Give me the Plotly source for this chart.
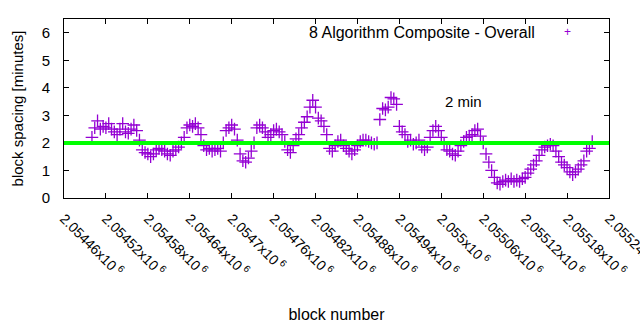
import plotly.graph_objects as go

# Block numbers (every 4th block) and the measured block spacing in minutes
blocks = list(range(2054500, 2055220, 4))
spacing = [
    2.2, 2.55, 2.8, 2.5, 2.6, 2.55, 2.7, 2.5, 2.4, 2.3,
    2.5, 2.7, 2.4, 2.35, 2.5, 2.65, 2.45, 2.1, 1.75, 1.65,
    1.6, 1.5, 1.6, 1.75, 1.8, 1.75, 1.7, 1.6, 1.55, 1.7,
    1.75, 1.85, 2.0, 2.2, 2.55, 2.65, 2.6, 2.7, 2.55, 2.3,
    1.9, 1.75, 1.8, 1.7, 1.75, 1.8, 1.7, 2.0, 2.45, 2.55,
    2.65, 2.5, 2.1, 1.6, 1.35, 1.3, 1.45, 1.7, 2.0, 2.55,
    2.65, 2.55, 2.4, 2.2, 2.3, 2.45, 2.5, 2.4, 2.3, 2.05,
    1.75, 1.65, 1.9, 2.15, 2.3, 2.55, 2.75, 2.95, 3.3, 3.55,
    3.3, 2.9, 2.8, 2.6, 2.3, 1.8, 1.7, 1.9, 2.05, 2.1,
    1.9, 1.8, 1.7, 1.6, 1.75, 1.9, 2.05, 2.1, 2.1, 2.05,
    2.0, 1.95, 2.0, 2.85, 3.25, 3.2, 3.3, 3.65, 3.6, 3.4,
    2.6, 2.4, 2.3, 2.05, 2.1, 1.95, 2.0, 2.1, 1.85, 1.75,
    1.85, 2.2, 2.45, 2.6, 2.45, 2.2, 1.95, 1.75, 1.7, 1.6,
    1.55, 1.7, 1.9, 2.05, 2.2, 2.25, 2.3, 2.45, 2.5, 2.25,
    2.0, 1.6, 1.3, 1.0, 0.75, 0.55, 0.5, 0.6, 0.65, 0.6,
    0.7, 0.6, 0.65, 0.6, 0.7, 0.75, 0.9, 1.05, 1.2, 1.35,
    1.55, 1.75, 1.85, 1.9, 1.95, 1.9, 1.7, 1.5, 1.3, 1.2,
    1.1, 0.95, 0.85, 0.95, 1.05, 1.2, 1.35, 1.7, 1.8, 2.05,
]

target_minutes = 2

x_ticks = [2054460 + 60 * k for k in range(14)]
x_tick_labels = [
    "2.05446", "2.05452", "2.05458", "2.05464", "2.0547", "2.05476", "2.05482",
    "2.05488", "2.05494", "2.055", "2.05506", "2.05512", "2.05518", "2.05524",
]
y_ticks = [0, 1, 2, 3, 4, 5, 6]

FONT = "Liberation Sans, Arial, sans-serif"
PURPLE = "#9400d3"

fig = go.Figure()
fig.add_trace(go.Scatter(
    x=blocks, y=spacing, mode="markers",
    marker=dict(symbol="cross-thin", size=9, line=dict(color=PURPLE, width=1.3)),
    showlegend=False, hoverinfo="skip",
))

# 2-minute target line across the whole plot
fig.add_shape(type="line", xref="paper", x0=0, x1=1, yref="y",
              y0=target_minutes, y1=target_minutes,
              line=dict(color="#00ff00", width=4), layer="above")

fig.add_annotation(x=2055003, y=3.5, xref="x", yref="y", text="2 min",
                   showarrow=False, xanchor="left", yanchor="middle",
                   font=dict(family=FONT, size=15, color="black"))

# Key: label on the left, point sample on the right
fig.add_annotation(x=0.868, y=0.927, xref="paper", yref="paper",
                   text="8 Algorithm Composite - Overall", showarrow=False,
                   xanchor="right", yanchor="middle",
                   font=dict(family=FONT, size=16, color="black"))
fig.add_annotation(x=0.9236, y=0.927, xref="paper", yref="paper",
                   text="+", showarrow=False, xanchor="center", yanchor="middle",
                   font=dict(family=FONT, size=12, color=PURPLE))

fig.update_xaxes(
    range=[x_ticks[0], x_ticks[-1]],
    tickvals=x_ticks,
    ticktext=[t + "x10<sup> 6</sup>" for t in x_tick_labels],
    tickangle=45,
    ticks="inside", ticklen=5, tickcolor="black",
    showline=True, linecolor="black", linewidth=1, mirror="allticks",
    showgrid=False, zeroline=False,
    ticklabelstandoff=6, ticklabeloverflow="allow", automargin=False,
    tickfont=dict(family=FONT, size=14, color="black"),
    title=dict(text="block number", font=dict(family=FONT, size=16, color="black"),
               standoff=30),
)
fig.update_yaxes(
    range=[0, 6.5],
    tickvals=y_ticks,
    ticks="inside", ticklen=5, tickcolor="black",
    showline=True, linecolor="black", linewidth=1, mirror="allticks",
    showgrid=False, zeroline=False,
    ticklabelstandoff=10, automargin=False,
    tickfont=dict(family=FONT, size=15, color="black"),
    title=dict(text="block spacing [minutes]",
               font=dict(family=FONT, size=15, color="black"), standoff=14),
)

fig.update_layout(
    width=640, height=330,
    margin=dict(l=64, r=31, t=19, b=132),
    paper_bgcolor="white", plot_bgcolor="white",
    showlegend=False,
)

fig.write_html("out.html")
